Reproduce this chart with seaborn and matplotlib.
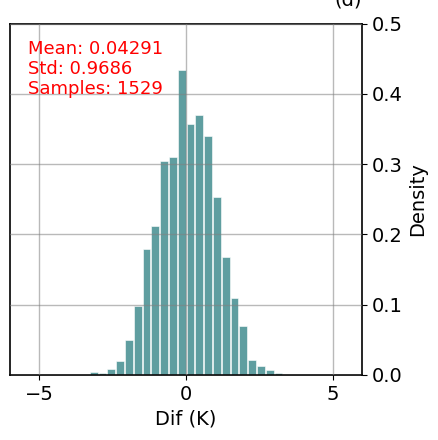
import numpy as np
import pandas as pd
import seaborn as sns
import matplotlib.pyplot as plt

# histogram: bin width 0.3, counts per bin
bin_left = [-3.3, -3.0, -2.7, -2.4, -2.1, -1.8, -1.5, -1.2, -0.9, -0.6, -0.3,
            0.0, 0.3, 0.6, 0.9, 1.2, 1.5, 1.8, 2.1, 2.4, 2.7, 3.0]
counts = [2, 1, 4, 9, 23, 45, 82, 97, 140, 142, 199,
          164, 170, 156, 116, 77, 50, 32, 10, 6, 3, 1]
bin_width = 0.3
stats_text = "Mean: 0.04291\nStd: 0.9686\nSamples: 1529"

df = pd.DataFrame({"dif": np.array(bin_left) + bin_width / 2, "n": counts})

fig = plt.figure(figsize=(4.39, 4.40), dpi=100)
ax = fig.add_axes([0.023, 0.148, 0.802, 0.798])

sns.histplot(data=df, x="dif", weights="n", binwidth=bin_width,
             binrange=(bin_left[0], bin_left[-1] + bin_width), stat="density",
             shrink=0.88, color="cadetblue", alpha=1.0, edgecolor="white",
             linewidth=0.4, ax=ax)

ax.set_xlim(-6, 6)
ax.set_ylim(0, 0.5)
ax.set_xticks([-5, 0, 5])
ax.set_yticks(np.arange(0, 0.51, 0.1))
ax.yaxis.tick_right()
ax.yaxis.set_label_position("right")
ax.tick_params(labelsize=14)
ax.set_xlabel("Dif (K)", fontsize=14)
ax.set_ylabel("Density", fontsize=14)
ax.set_axisbelow(False)
ax.grid(True, color="gray", alpha=0.55, linewidth=1)
for s in ax.spines.values():
    s.set_color("black")
    s.set_linewidth(1.2)

ax.text(0.05, 0.955, stats_text, transform=ax.transAxes, color="red",
        fontsize=13, va="top", ha="left", linespacing=1.15)
# panel letter sits partly above the figure edge, as in the source image
ax.set_title("(d)", loc="right", fontsize=14, pad=13)

fig.savefig("out.png", dpi=100)
